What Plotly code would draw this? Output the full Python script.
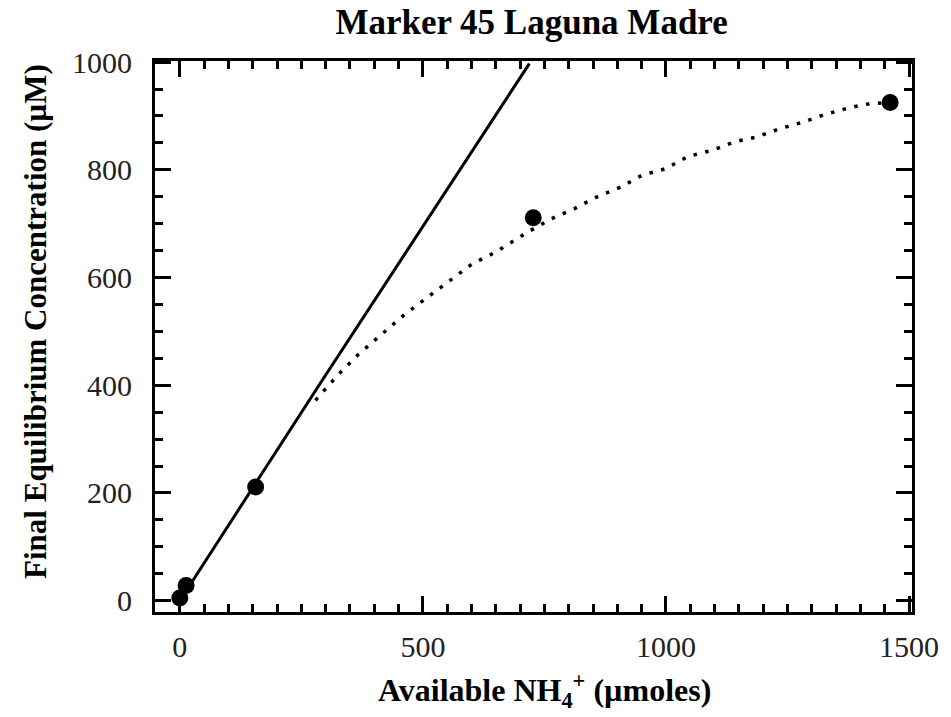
import plotly.graph_objects as go

# Measured points: available NH4+ (µmoles) vs final equilibrium concentration (µM)
obs_x = [0, 13, 156, 727, 1461]
obs_y = [5, 28, 211, 711, 925]

# Linear (no-sorption) reference line
lin_x = [0, 292, 719]
lin_y = [0, 408, 997]

# Fitted sorption curve
fit_x = [279, 326, 367, 414, 462, 509, 554, 601, 649, 693, 717, 764, 812, 856,
         907, 951, 999, 1046, 1094, 1141, 1187, 1233, 1280, 1328, 1376, 1420, 1461]
fit_y = [372, 420, 457, 493, 531, 563, 593, 625, 647, 672, 685, 709, 728, 749,
         768, 790, 802, 825, 836, 852, 861, 876, 888, 903, 915, 923, 925]

SERIF = "Liberation Serif, Times New Roman, serif"

# Plot area in pixels (figure is 951 x 717)
L, R, T, B = 155, 918, 61, 612
W, H = R - L, B - T


def px_to_paper(px, py):
    return (px - L) / W, (B - py) / H


fig = go.Figure()
fig.add_trace(go.Scatter(x=lin_x, y=lin_y, mode="lines",
                         line=dict(color="black", width=3), hoverinfo="skip"))
fig.add_trace(go.Scatter(x=fit_x, y=fit_y, mode="lines",
                         line=dict(color="black", width=3.5, dash="3.5px,8.5px"),
                         hoverinfo="skip"))
fig.add_trace(go.Scatter(x=obs_x, y=obs_y, mode="markers",
                         marker=dict(symbol="circle", size=17, color="black")))

axis_common = dict(
    showgrid=False, zeroline=False, showline=True, linecolor="black", linewidth=3,
    mirror="ticks", ticks="inside", ticklen=16, tickwidth=2.5, tickcolor="black",
    tickfont=dict(family=SERIF, size=30, color="#222"),
)

fig.update_xaxes(
    range=[-51, 1506], tickvals=[0, 500, 1000, 1500],
    minor=dict(dtick=50, ticks="inside", ticklen=8, tickwidth=2.5, tickcolor="black"),
    ticklabelstandoff=6,
    **axis_common,
)
fig.update_yaxes(
    range=[-21, 1002], tickvals=[0, 200, 400, 600, 800, 1000],
    minor=dict(dtick=50, ticks="inside", ticklen=8, tickwidth=2.5, tickcolor="black"),
    ticklabelstandoff=14,
    **axis_common,
)

xt_x, xt_y = px_to_paper(548, 690)
yt_x, yt_y = px_to_paper(34, 321)

fig.update_layout(
    width=951, height=717,
    margin=dict(l=L, r=951 - R, t=T, b=717 - B),
    paper_bgcolor="white", plot_bgcolor="white",
    showlegend=False,
    title=dict(text="<b>Marker 45 Laguna Madre</b>", x=0.559, xanchor="center",
               y=1 - 22 / 717, yanchor="middle", yref="container",
               font=dict(family=SERIF, size=35, color="black")),
    annotations=[
        dict(text="<b>Available NH<sub>4</sub><sup>+</sup> (µmoles)</b>",
             xref="paper", yref="paper", x=xt_x, y=xt_y,
             xanchor="center", yanchor="middle", showarrow=False,
             font=dict(family=SERIF, size=32, color="black")),
        dict(text="<b>Final Equilibrium Concentration (µM)</b>",
             xref="paper", yref="paper", x=yt_x, y=yt_y, textangle=-90,
             xanchor="center", yanchor="middle", showarrow=False,
             font=dict(family=SERIF, size=31, color="black")),
    ],
)

fig.write_html("out.html")
